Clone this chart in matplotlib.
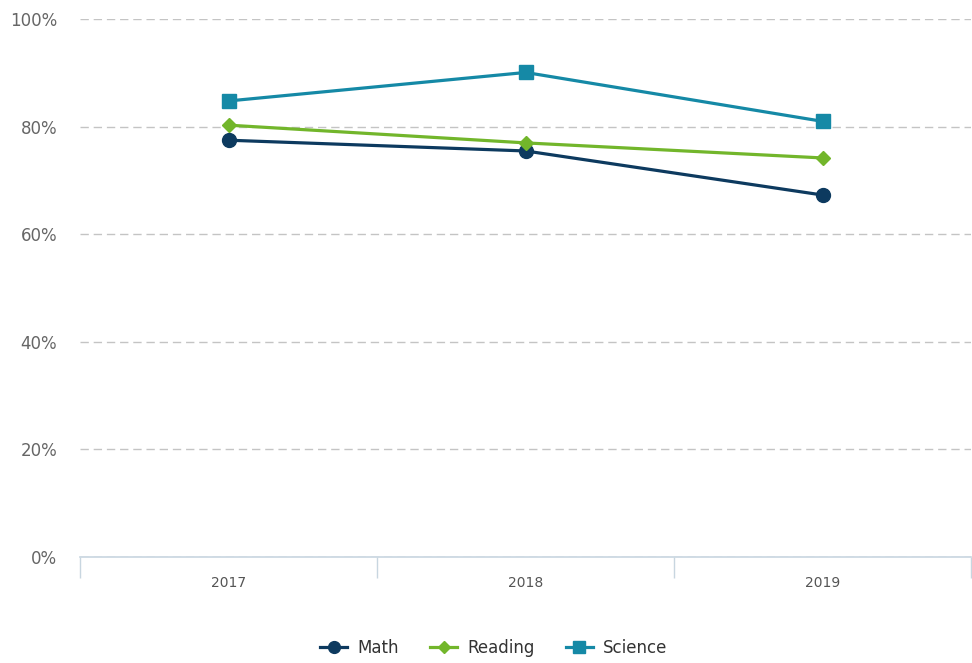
import matplotlib.pyplot as plt
from matplotlib.ticker import FixedLocator, NullFormatter

# Share of students meeting standard, by subject
years = ["2017", "2018", "2019"]
math = [77.5, 75.5, 67.3]
reading = [80.3, 77.0, 74.2]
science = [84.8, 90.1, 81.0]

COLOR_MATH = "#0d3a5f"
COLOR_READING = "#72b62b"
COLOR_SCIENCE = "#1589a6"

fig = plt.figure(figsize=(9.72, 6.63), dpi=100)
ax = fig.add_axes([0.0823, 0.160, 0.917, 0.811])

x = list(range(len(years)))
ax.plot(x, math, color=COLOR_MATH, lw=2.3, marker="o", ms=10, label="Math", zorder=3)
ax.plot(x, reading, color=COLOR_READING, lw=2.3, marker="D", ms=7.5, label="Reading", zorder=3)
ax.plot(x, science, color=COLOR_SCIENCE, lw=2.3, marker="s", ms=9.5, label="Science", zorder=3)

ax.set_xlim(-0.5, len(years) - 0.5)
ax.set_ylim(0, 100)

# Y axis: dashed grid, percent labels
ax.set_yticks(range(0, 101, 20))
ax.set_yticklabels(["{}%".format(v) for v in range(0, 101, 20)])
ax.yaxis.grid(True, color="#c4c4c4", linestyle=(0, (6, 3.5)), linewidth=1)
ax.tick_params(axis="y", length=0, pad=16.5, labelsize=12, labelcolor="#666666")

# X axis: labels centred on categories, ticks on boundaries
ax.set_xticks(x)
ax.set_xticklabels(years)
ax.tick_params(axis="x", which="major", length=0, pad=14, labelsize=10, labelcolor="#555555")
ax.xaxis.set_minor_locator(FixedLocator([i - 0.5 for i in range(len(years) + 1)]))
ax.xaxis.set_minor_formatter(NullFormatter())
ax.tick_params(axis="x", which="minor", length=15, width=1, color="#c8d6e0")

for side in ["top", "right", "left"]:
    ax.spines[side].set_visible(False)
ax.spines["bottom"].set_color("#c8d6e0")
ax.spines["bottom"].set_linewidth(1.2)

leg = fig.legend(loc="center", bbox_to_anchor=(0.508, 0.023), ncol=3, frameon=False,
                 fontsize=12, handlelength=1.6, columnspacing=1.9, handletextpad=0.6,
                 markerscale=0.85)
for t in leg.get_texts():
    t.set_color("#333333")

fig.savefig("out.png", dpi=100)
